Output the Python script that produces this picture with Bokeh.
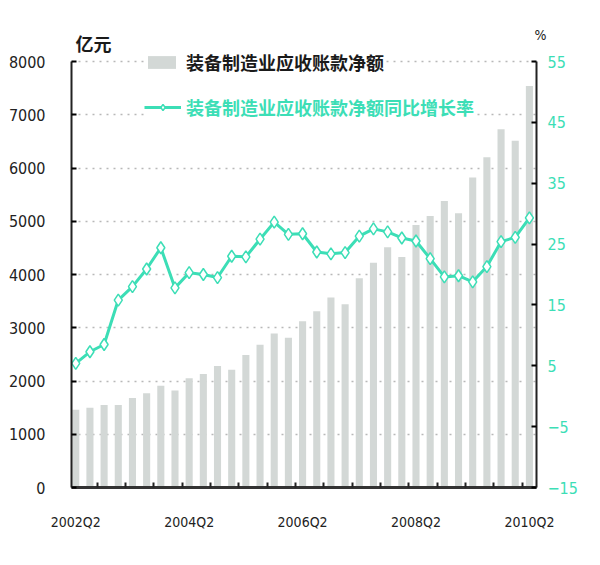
from bokeh.plotting import figure
from bokeh.models import (Range1d, LinearAxis, FixedTicker, Legend, LegendItem,
                          Label, ColumnDataSource)
from bokeh.embed import file_html
from bokeh.resources import INLINE

quarters = ["2002Q2", "2002Q3", "2002Q4",
            "2003Q1", "2003Q2", "2003Q3", "2003Q4",
            "2004Q1", "2004Q2", "2004Q3", "2004Q4",
            "2005Q1", "2005Q2", "2005Q3", "2005Q4",
            "2006Q1", "2006Q2", "2006Q3", "2006Q4",
            "2007Q1", "2007Q2", "2007Q3", "2007Q4",
            "2008Q1", "2008Q2", "2008Q3", "2008Q4",
            "2009Q1", "2009Q2", "2009Q3", "2009Q4",
            "2010Q1", "2010Q2"]
receivables = [1460, 1500, 1550, 1550, 1680, 1770, 1910, 1820, 2050, 2130, 2280,
               2210, 2490, 2680, 2890, 2810, 3120, 3310, 3570, 3440, 3930, 4220,
               4510, 4330, 4930, 5100, 5380, 5150, 5820, 6200, 6730, 6510, 7540]
growth = [5.4, 7.3, 8.5, 15.8, 18.0, 20.9, 24.4, 17.8, 20.3, 20.0, 19.5,
          23.0, 22.9, 25.8, 28.6, 26.6, 26.7, 23.7, 23.4, 23.6, 26.3, 27.5,
          27.0, 26.0, 25.5, 22.6, 19.6, 19.8, 18.8, 21.3, 25.4, 26.1, 29.3]
x_tick_labels = ["2002Q2", "2004Q2", "2006Q2", "2008Q2", "2010Q2"]
left_ticks = [0, 1000, 2000, 3000, 4000, 5000, 6000, 7000, 8000]
right_ticks = [-15, -5, 5, 15, 25, 35, 45, 55]
bar_name = "装备制造业应收账款净额"
line_name = "装备制造业应收账款净额同比增长率"
left_unit = "亿元"
right_unit = "%"

BAR_COLOR = "#d3d8d6"
LINE_COLOR = "#3cdeb6"
NUM_FONT = "DejaVu Sans Condensed"
CJK_FONT = "Noto Sans CJK SC"

# layout geometry (pixels)
AXIS_H = 426          # height of the axis span (0..8000)
TOP_PAD = 40          # extra frame space above the axes for unit labels
LMIN, LMAX = 0, 8000
RMIN, RMAX = -15, 55
y_end = LMAX * (AXIS_H + TOP_PAD) / AXIS_H
r_end = RMIN + (RMAX - RMIN) * (AXIS_H + TOP_PAD) / AXIS_H

xs = list(range(len(quarters)))
src = ColumnDataSource(dict(x=xs, q=quarters, amount=receivables, growth=growth))

p = figure(width=592, height=557, output_backend="svg", toolbar_location=None,
           x_range=Range1d(-0.3, 32.5), y_range=Range1d(LMIN, y_end),
           min_border_left=71, min_border_right=55, min_border_top=61 - TOP_PAD,
           min_border_bottom=70)
p.outline_line_color = None
p.background_fill_color = "white"
p.extra_y_ranges = {"pct": Range1d(RMIN, r_end)}

bars = p.vbar(x="x", top="amount", width=0.5, source=src,
              fill_color=BAR_COLOR, line_color=None)
ln = p.line(x="x", y="growth", source=src, y_range_name="pct",
            line_color=LINE_COLOR, line_width=3)
pts = p.scatter(x="x", y="growth", source=src, y_range_name="pct",
                marker="diamond", size=12, fill_color="white",
                line_color=LINE_COLOR, line_width=1.5)

# bottom axis
major_x = [quarters.index(t) for t in x_tick_labels]
minor_x = [i + 0.5 for i in range(1, len(quarters) - 1, 2)]
xa = p.xaxis[0]
xa.ticker = FixedTicker(ticks=major_x, minor_ticks=minor_x)
xa.major_label_overrides = {i: quarters[i] for i in major_x}
xa.major_tick_in = 0
xa.major_tick_out = 0
xa.minor_tick_in = 5
xa.minor_tick_out = 0
xa.minor_tick_line_color = "#222222"
xa.minor_tick_line_width = 2
xa.axis_line_width = 3
xa.axis_line_color = "#333333"
xa.major_label_standoff = 26
xa.major_label_text_font = NUM_FONT
xa.major_label_text_font_size = "14px"
xa.major_label_text_color = "#222222"

# left axis
ya = p.yaxis[0]
ya.ticker = FixedTicker(ticks=left_ticks)
ya.bounds = (LMIN, LMAX)
ya.major_tick_in = 5
ya.major_tick_out = 0
ya.minor_tick_line_color = None
ya.axis_line_width = 2
ya.axis_line_color = "#222222"
ya.major_tick_line_width = 2
ya.major_label_standoff = 26
ya.major_label_text_font = NUM_FONT
ya.major_label_text_font_size = "16px"
ya.major_label_text_color = "#222222"

# right axis
ra = LinearAxis(y_range_name="pct", ticker=FixedTicker(ticks=right_ticks),
                bounds=(RMIN, RMAX))
ra.major_tick_in = 5
ra.major_tick_out = 0
ra.minor_tick_line_color = None
ra.axis_line_width = 2
ra.axis_line_color = "#222222"
ra.major_tick_line_width = 2
ra.major_label_standoff = 11
ra.major_label_text_font = NUM_FONT
ra.major_label_text_font_size = "16px"
ra.major_label_text_color = LINE_COLOR
p.add_layout(ra, "right")

p.xgrid.grid_line_color = None
p.ygrid.ticker = FixedTicker(ticks=left_ticks)
p.ygrid.grid_line_color = "#b8b8b8"
p.ygrid.grid_line_dash = "2 5"
p.ygrid.grid_line_width = 1.5

leg1 = Legend(items=[LegendItem(label=bar_name, renderers=[bars])],
              location=(73, 412), padding=22, spacing=0, margin=0,
              glyph_width=35, glyph_height=16, label_standoff=7,
              label_text_font=CJK_FONT, label_text_font_size="18px",
              label_text_font_style="bold", label_text_color="#1a1a1a",
              border_line_color=None, background_fill_color="white",
              background_fill_alpha=1.0)
leg2 = Legend(items=[LegendItem(label=line_name, renderers=[ln, pts])],
              location=(73, 367), padding=22, spacing=0, margin=0,
              glyph_width=37, glyph_height=16, label_standoff=5,
              label_text_font=CJK_FONT, label_text_font_size="18px",
              label_text_font_style="bold", label_text_color=LINE_COLOR,
              border_line_color=None, background_fill_color="white",
              background_fill_alpha=1.0)
p.add_layout(leg2)
p.add_layout(leg1)

p.add_layout(Label(x=-0.3, y=LMAX, x_offset=4, y_offset=6, text=left_unit,
                   text_font=CJK_FONT, text_font_style="bold",
                   text_font_size="18px", text_color="#1a1a1a",
                   text_baseline="bottom"))
p.add_layout(Label(x=32.5, y=LMAX, x_offset=4, y_offset=19, text=right_unit,
                   text_font=NUM_FONT, text_font_size="14px",
                   text_color="#1a1a1a", text_align="center",
                   text_baseline="bottom"), "right")

open("out.html", "w").write(file_html(p, INLINE))
